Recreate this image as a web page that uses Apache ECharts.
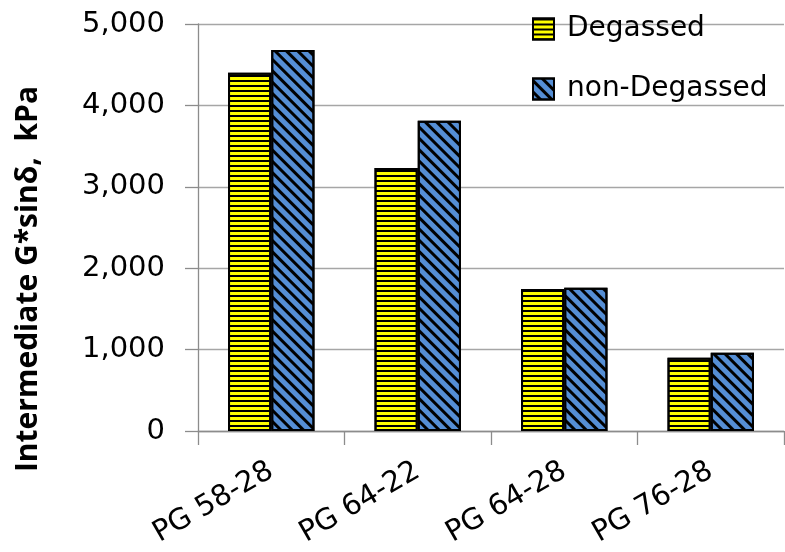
<!DOCTYPE html>
<html>
<head>
<meta charset="utf-8">
<script src="https://cdn.jsdelivr.net/npm/echarts@6/dist/echarts.min.js"></script>
<style>
  html, body { margin: 0; padding: 0; background: #fff; }
  #chart { width: 785px; height: 552px; }
</style>
</head>
<body>
<div id="chart"></div>
<script>
// Binder grades and the intermediate-temperature G*sinδ of each sample set
const categories = ['PG 58-28', 'PG 64-22', 'PG 64-28', 'PG 76-28'];
const degassed = [4400, 3230, 1745, 900];
const nonDegassed = [4680, 3810, 1760, 960];
const seriesNames = ['Degassed', 'non-Degassed'];
const yTicks = { min: 0, max: 5000, interval: 1000 };
const yTitle = 'Intermediate G*sinδ,  kPa';

const FONT = '"DejaVu Sans", "Noto Sans", sans-serif';
const TITLE_FONT = '"Open Sans", "Noto Sans", sans-serif';

const chart = echarts.init(document.getElementById('chart'), null, { renderer: 'canvas' });

const option = {
  backgroundColor: '#ffffff',
  animation: false,
  grid: { left: 198, right: 1, top: 24, bottom: 121, containLabel: false },
  legend: {
    orient: 'vertical',
    left: 532,
    top: 12,
    padding: 0,
    icon: 'rect',
    itemWidth: 21,
    itemHeight: 21,
    itemGap: 26,
    textStyle: {
      fontFamily: FONT,
      fontSize: 28,
      color: '#000',
      lineHeight: 34,
      padding: [0, 0, 0, 8]
    },
    data: seriesNames
  },
  xAxis: {
    type: 'category',
    data: categories,
    boundaryGap: true,
    axisLine: { lineStyle: { color: '#8c8c8c', width: 1.3 } },
    axisTick: { show: true, length: 14, alignWithLabel: false, lineStyle: { color: '#8c8c8c', width: 1.3 } },
    axisLabel: {
      rotate: 30,
      margin: 38,
      fontFamily: FONT,
      fontSize: 29,
      color: '#000'
    },
    splitLine: { show: false }
  },
  yAxis: {
    type: 'value',
    min: yTicks.min,
    max: yTicks.max,
    interval: yTicks.interval,
    axisLine: { show: true, lineStyle: { color: '#8c8c8c', width: 1.3 } },
    axisTick: { show: true, length: 13, lineStyle: { color: '#8c8c8c', width: 1.3 } },
    axisLabel: {
      margin: 33,
      fontFamily: FONT,
      fontSize: 29,
      color: '#000',
      formatter: v => v.toLocaleString('en-US')
    },
    splitLine: { show: true, lineStyle: { color: '#a6a6a6', width: 1.3 } }
  },
  graphic: [{
    type: 'text',
    x: 28,
    y: 279,
    rotation: Math.PI / 2,
    style: {
      text: yTitle,
      fontFamily: TITLE_FONT,
      fontWeight: 'bold',
      fontSize: 30,
      fill: '#000',
      align: 'center',
      verticalAlign: 'middle'
    }
  }],
  series: [
    {
      name: seriesNames[0],
      type: 'bar',
      data: degassed,
      barCategoryGap: '41%',
      barGap: '0%',
      itemStyle: {
        color: '#ffff00',
        borderColor: '#000',
        borderWidth: 2,
        decal: {
          symbol: 'rect',
          symbolSize: 1,
          color: '#000',
          dashArrayX: [1, 0],
          dashArrayY: [1.3, 3],
          rotation: 0
        }
      }
    },
    {
      name: seriesNames[1],
      type: 'bar',
      data: nonDegassed,
      barCategoryGap: '41%',
      barGap: '0%',
      itemStyle: {
        color: '#558ed5',
        borderColor: '#000',
        borderWidth: 2,
        decal: {
          symbol: 'rect',
          symbolSize: 1,
          color: '#000',
          dashArrayX: [1, 0],
          dashArrayY: [2.6, 4.4],
          rotation: Math.PI / 4
        }
      }
    }
  ]
};

chart.setOption(option);
</script>
</body>
</html>
